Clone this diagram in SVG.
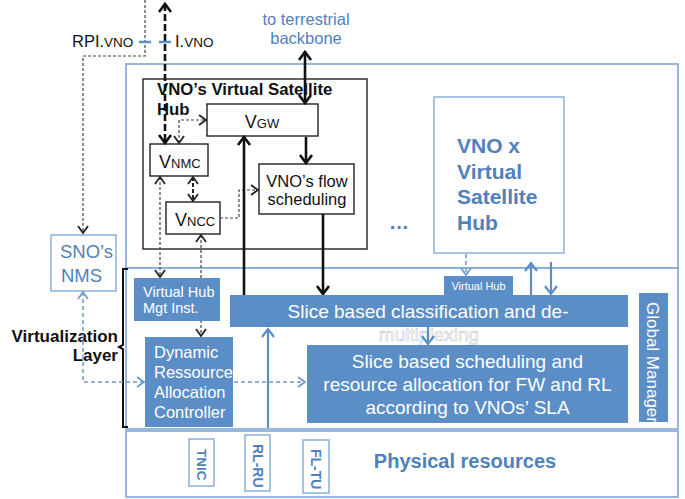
<svg xmlns="http://www.w3.org/2000/svg" width="685" height="499" viewBox="0 0 685 499">
<defs>
<style>
text{font-family:"Liberation Sans",Arial,sans-serif}
.frame{fill:#fff;stroke:#7ea7d5;stroke-width:1.6}
.lbox{fill:#fff;stroke:#8cb0d9;stroke-width:1.5}
.bbox{fill:#fff;stroke:#222;stroke-width:1.4}
.fill{fill:#5b8ec6;stroke:none}
.wt{fill:#fff}
.bt{fill:#4f81bd}
.kt{fill:#111}
.thk{fill:none;stroke:#111;stroke-width:2.6}
.thkd{fill:none;stroke:#111;stroke-width:2.6;stroke-dasharray:7 3}
.dot{fill:none;stroke:#444;stroke-width:1.2;stroke-dasharray:3 2}
.dotb{fill:none;stroke:#222;stroke-width:2;stroke-dasharray:4 2}
.bl{fill:none;stroke:#5b8ec6;stroke-width:2.2}
.bld{fill:none;stroke:#6f9bcd;stroke-width:1.5;stroke-dasharray:4 3}
</style>
<marker id="ak" markerUnits="userSpaceOnUse" markerWidth="16" markerHeight="16" viewBox="0 0 16 16" refX="13" refY="8" orient="auto-start-reverse"><path d="M5,2 L13,8 L5,14" fill="none" stroke="#111" stroke-width="2.6"/></marker>
<marker id="ag" markerUnits="userSpaceOnUse" markerWidth="14" markerHeight="14" viewBox="0 0 14 14" refX="11" refY="7" orient="auto-start-reverse"><path d="M4,2 L11,7 L4,12" fill="none" stroke="#222" stroke-width="1.8"/></marker>
<marker id="ab" markerUnits="userSpaceOnUse" markerWidth="16" markerHeight="16" viewBox="0 0 16 16" refX="13" refY="8" orient="auto-start-reverse"><path d="M5,2 L13,8 L5,14" fill="none" stroke="#5b8ec6" stroke-width="2.2"/></marker>
<marker id="abd" markerUnits="userSpaceOnUse" markerWidth="14" markerHeight="14" viewBox="0 0 14 14" refX="11" refY="7" orient="auto-start-reverse"><path d="M4,2 L11,7 L4,12" fill="none" stroke="#6f9bcd" stroke-width="1.8"/></marker>
</defs>
<rect width="685" height="499" fill="#fff"/>

<g id="frames">
<rect class="frame" x="126" y="64" width="552" height="204"/>
<rect class="frame" x="126" y="268" width="552" height="161"/>
<rect class="frame" x="126" y="431" width="552" height="66"/>
</g>

<g id="vno-hub">
<rect class="bbox" x="143" y="79" width="224" height="170"/>
<text class="kt" x="157" y="95" font-size="16.8" font-weight="bold">VNO’s Virtual Satellite</text>
<text class="kt" x="157" y="115" font-size="16.8" font-weight="bold">Hub</text>
</g>

<g id="vgw">
<rect class="bbox" x="207" y="104" width="111" height="32"/>
<text class="kt" x="262" y="128" text-anchor="middle"><tspan font-size="18">V</tspan><tspan font-size="13">GW</tspan></text>
</g>
<g id="vnmc">
<rect class="bbox" x="150" y="144" width="58" height="32"/>
<text class="kt" x="159" y="168"><tspan font-size="18">V</tspan><tspan font-size="13">NMC</tspan></text>
</g>
<g id="vncc">
<rect class="bbox" x="166" y="202" width="54" height="32"/>
<text class="kt" x="175" y="226"><tspan font-size="18">V</tspan><tspan font-size="13">NCC</tspan></text>
</g>
<g id="flow">
<rect class="bbox" x="259" y="164" width="95" height="50"/>
<text class="kt" x="307" y="187" font-size="16.5" text-anchor="middle">VNO’s flow</text>
<text class="kt" x="307" y="205" font-size="16.5" text-anchor="middle">scheduling</text>
</g>

<g id="vnox">
<rect class="lbox" x="434" y="97" width="130" height="156"/>
<text class="bt" font-size="21" font-weight="bold"><tspan x="457" y="153">VNO x</tspan><tspan x="457" y="179">Virtual</tspan><tspan x="457" y="204">Satellite</tspan><tspan x="457" y="230">Hub</tspan></text>
</g>
<text id="dots" class="bt" x="389" y="229" font-size="20" font-weight="bold">…</text>

<g id="terrestrial">
<text class="bt" x="306" y="25" font-size="16.5" text-anchor="middle">to terrestrial</text>
<text class="bt" x="306" y="44" font-size="16.5" text-anchor="middle">backbone</text>
</g>

<g id="labels-top">
<text class="kt" x="72" y="47"><tspan font-size="16.5">RPI.</tspan><tspan font-size="13.5">VNO</tspan></text>
<text class="kt" x="175" y="47"><tspan font-size="16.5">I.</tspan><tspan font-size="13.5">VNO</tspan></text>
</g>

<g id="sno-nms">
<rect class="lbox" x="51" y="235" width="65" height="56"/>
<text class="bt" x="60" y="258" font-size="18.5">SNO’s</text>
<text class="bt" x="61" y="282" font-size="18.5">NMS</text>
</g>

<g id="virt-layer">
<text class="kt" x="118" y="342" font-size="17" font-weight="bold" text-anchor="end">Virtualization</text>
<text class="kt" x="118" y="361" font-size="17" font-weight="bold" text-anchor="end">Layer</text>
<path d="M128,269 H123 V345 L119,347 L123,349 V427 H128" fill="none" stroke="#111" stroke-width="2"/>
</g>

<g id="connectors">
<path class="dot" d="M145,0 V56 H83 V233" marker-end="url(#ag)"/>
<path class="thkd" d="M165,4 V143" marker-start="url(#ak)" marker-end="url(#ak)"/>
<path class="dot" d="M179,143 V120 H206" marker-start="url(#ag)" marker-end="url(#ag)"/>
<path class="dotb" d="M193,177 V201" marker-start="url(#ag)" marker-end="url(#ag)"/>
<path class="dot" d="M220,218 H239 V190 H258" marker-end="url(#ag)"/>
<path class="dot" d="M160,177 V277" marker-start="url(#ag)" marker-end="url(#ag)"/>
<path class="dot" d="M201,235 V336" marker-start="url(#ag)" marker-end="url(#ag)"/>
<path class="thk" d="M305,52 V103" marker-start="url(#ak)" marker-end="url(#ak)"/>
<path class="thk" d="M306,137 V163" marker-end="url(#ak)"/>
<path class="thk" d="M244,295 V137" marker-end="url(#ak)"/>
<path class="thk" d="M323,214 V294" marker-end="url(#ak)"/>
<path class="bld" d="M466,254 V275" marker-end="url(#abd)" stroke-width="2"/>
<path class="bl" d="M531,295 V263" marker-end="url(#ab)"/>
<path class="bl" d="M551,262 V294" marker-end="url(#ab)"/>
<path class="bl" d="M268,428 V329" marker-end="url(#ab)"/>
<path class="bld" d="M83,292 V382 H144" marker-start="url(#abd)" marker-end="url(#abd)"/>
<path class="bld" d="M234,382 H305" marker-end="url(#abd)"/>
</g>

<g id="blue-marks">
<line x1="139" y1="42" x2="151" y2="42" stroke="#5b8ec6" stroke-width="2.5"/>
<line x1="159" y1="42" x2="171" y2="42" stroke="#5b8ec6" stroke-width="2.5"/>
</g>

<g id="vh-mgt">
<rect class="fill" x="134" y="278" width="86" height="43"/>
<text class="wt" x="143" y="297" font-size="14.5">Virtual Hub</text>
<text class="wt" x="143" y="313" font-size="14.5">Mgt Inst.</text>
</g>
<g id="dynamic">
<rect class="fill" x="145" y="337" width="88" height="90"/>
<text class="wt" font-size="16.5"><tspan x="154" y="357.5">Dynamic</tspan><tspan x="154" y="377.5">Ressource</tspan><tspan x="154" y="397.5">Allocation</tspan><tspan x="154" y="418">Controller</tspan></text>
</g>
<g id="virtual-hub">
<rect class="fill" x="444" y="276" width="69" height="19"/>
<text class="wt" x="478.5" y="290" font-size="11" text-anchor="middle">Virtual Hub</text>
</g>
<g id="classification">
<rect class="fill" x="230" y="295" width="398" height="32"/>
<text class="wt" x="428" y="318" font-size="19" text-anchor="middle">Slice based classification and de-</text>
<text x="429" y="341" font-size="19" text-anchor="middle" fill="#fff" stroke="#c8c8c8" stroke-width="0.6">multiplexing</text>
</g>
<g id="scheduling">
<rect class="fill" x="307" y="345" width="321" height="78"/>
<text class="wt" font-size="19" text-anchor="middle"><tspan x="467.5" y="368">Slice based scheduling and</tspan><tspan x="467.5" y="391">resource allocation for FW and RL</tspan><tspan x="467.5" y="414">according to VNOs’ SLA</tspan></text>
</g>
<path class="bl" d="M428,327 V344" marker-end="url(#ab)"/>
<g id="global-manager">
<rect class="fill" x="639" y="293" width="29" height="129"/>
<text class="wt" font-size="17" transform="translate(647,302) rotate(90)">Global Manager</text>
</g>

<g id="tnic">
<rect class="lbox" x="189" y="439" width="25" height="47"/>
<text class="bt" font-size="13.5" font-weight="bold" transform="translate(196.5,449) rotate(90)">TNIC</text>
</g>
<g id="rlru">
<rect class="lbox" x="245" y="435" width="25" height="56"/>
<text class="bt" font-size="14" font-weight="bold" transform="translate(252.5,444) rotate(90)">RL-RU</text>
</g>
<g id="fltu">
<rect class="lbox" x="303" y="440" width="26" height="53"/>
<text class="bt" font-size="14" font-weight="bold" transform="translate(311,449) rotate(90)">FL-TU</text>
</g>
<text id="physical" class="bt" x="465" y="468" font-size="20" font-weight="bold" text-anchor="middle">Physical resources</text>
</svg>
